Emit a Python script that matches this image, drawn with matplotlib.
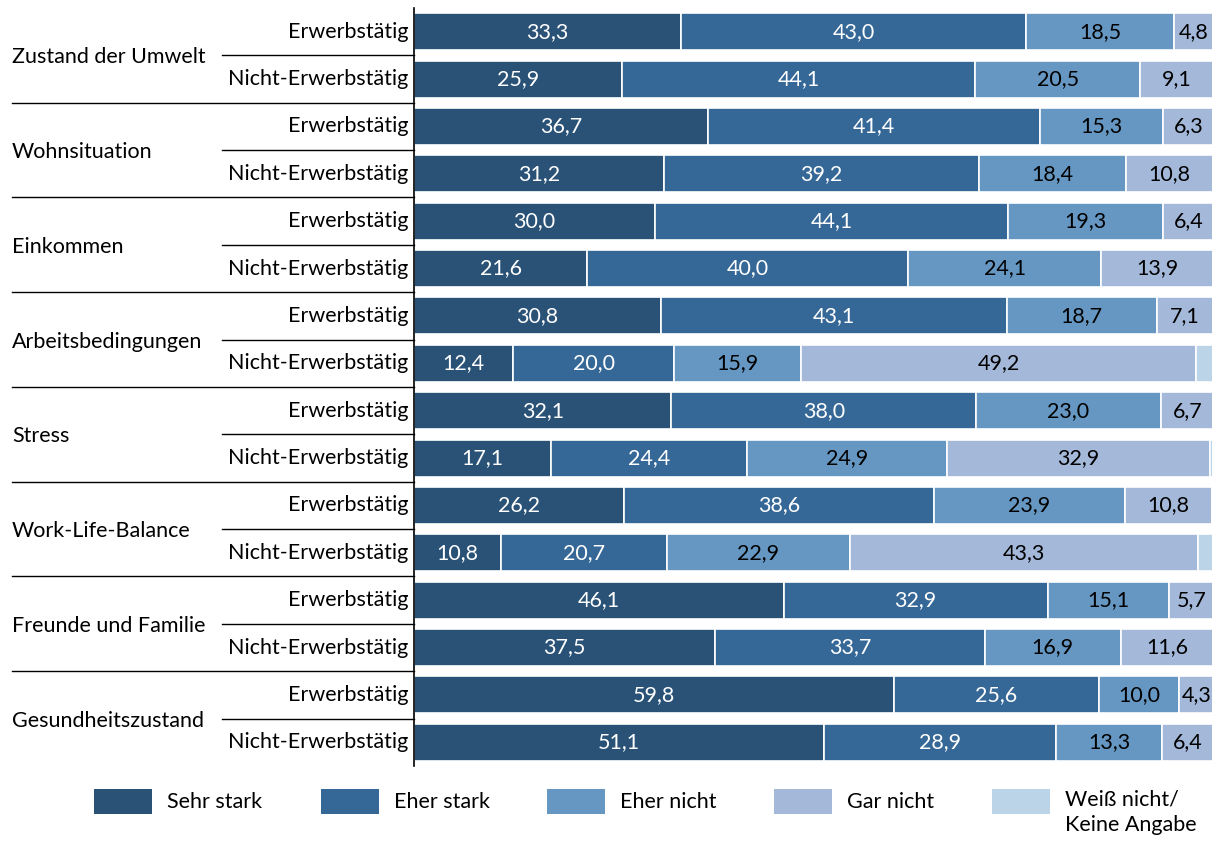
import matplotlib
matplotlib.use('Agg')
import matplotlib.pyplot as plt
import matplotlib.patches as mpatches
from matplotlib.lines import Line2D
import numpy as np

plt.rcParams['font.family'] = ['Lato', 'DejaVu Sans']

topics = ['Zustand der Umwelt', 'Wohnsituation', 'Einkommen', 'Arbeitsbedingungen',
          'Stress', 'Work-Life-Balance', 'Freunde und Familie', 'Gesundheitszustand']
groups = ['Erwerbstätig', 'Nicht-Erwerbstätig']
answers = ['Sehr stark', 'Eher stark', 'Eher nicht', 'Gar nicht', 'Weiß nicht/\nKeine Angabe']

# one value per row: topic x group, top to bottom
sehr_stark = [33.3, 25.9, 36.7, 31.2, 30.0, 21.6, 30.8, 12.4,
              32.1, 17.1, 26.2, 10.8, 46.1, 37.5, 59.8, 51.1]
eher_stark = [43.0, 44.1, 41.4, 39.2, 44.1, 40.0, 43.1, 20.0,
              38.0, 24.4, 38.6, 20.7, 32.9, 33.7, 25.6, 28.9]
eher_nicht = [18.5, 20.5, 15.3, 18.4, 19.3, 24.1, 18.7, 15.9,
              23.0, 24.9, 23.9, 22.9, 15.1, 16.9, 10.0, 13.3]
gar_nicht = [4.8, 9.1, 6.3, 10.8, 6.4, 13.9, 7.1, 49.2,
             6.7, 32.9, 10.8, 43.3, 5.7, 11.6, 4.3, 6.4]
weiss_nicht = [0.4, 0.4, 0.3, 0.4, 0.2, 0.4, 0.3, 2.5,
               0.2, 0.7, 0.5, 2.3, 0.2, 0.3, 0.3, 0.3]

series = [sehr_stark, eher_stark, eher_nicht, gar_nicht, weiss_nicht]
colors = ['#295276', '#366897', '#6597C2', '#A4B9DA', '#BCD4E8']
text_colors = ['white', 'white', 'black', 'black', None]
FS = 15.5

fig = plt.figure(figsize=(12.12, 8.41), dpi=100)
ax = fig.add_axes([414 / 1212, 0.0892, 1 - 414 / 1212, 0.9013])

n = len(sehr_stark)
y = np.arange(n)
left = np.zeros(n)
for vals, col, tcol in zip(series, colors, text_colors):
    vals = np.array(vals)
    ax.barh(y, vals, left=left, height=0.78, color=col,
            edgecolor='white', linewidth=1.2)
    if tcol is not None:
        for yi, (l, v) in enumerate(zip(left, vals)):
            ax.text(l + v / 2, yi, f'{v:.1f}'.replace('.', ','),
                    ha='center', va='center', color=tcol, fontsize=FS)
    left += vals

ax.set_xlim(0, 99.5)
ax.set_ylim(n - 0.5, -0.5)
ax.set_xticks([])
ax.set_yticks([])
for s in ['top', 'right', 'bottom']:
    ax.spines[s].set_visible(False)
ax.spines['left'].set_linewidth(1.2)
ax.spines['left'].set_color('black')

# row labels and separator lines to the left of the bars
trans = ax.get_yaxis_transform()
for i in range(n):
    ax.text(-6 / 798, i, groups[i % 2], transform=trans, ha='right', va='center',
            fontsize=FS, clip_on=False)
for k, topic in enumerate(topics):
    mid = 2 * k + 0.5
    ax.text(-402 / 798, mid + 0.04, topic, transform=trans, ha='left', va='center',
            fontsize=FS, clip_on=False)
    ax.add_line(Line2D([-192 / 798, 0], [mid, mid], transform=trans,
                       color='black', lw=1.0, clip_on=False))
    if k < len(topics) - 1:
        ax.add_line(Line2D([-402 / 798, 0], [mid + 1, mid + 1], transform=trans,
                           color='black', lw=1.0, clip_on=False))

# legend
leg_x = [94, 321, 547, 774, 992]
for lx, lab, col in zip(leg_x, answers, colors):
    fig.patches.append(mpatches.Rectangle(
        (lx / 1212, 1 - 814 / 841), 58 / 1212, 25 / 841,
        transform=fig.transFigure, facecolor=col, edgecolor='none'))
    if '\n' in lab:
        fig.text((lx + 73) / 1212, 1 - 790 / 841, lab, ha='left', va='top',
                 fontsize=FS, linespacing=1.3)
    else:
        fig.text((lx + 73) / 1212, 1 - 802 / 841, lab, ha='left', va='center',
                 fontsize=FS)

fig.savefig('out.png', dpi=100, facecolor='white')
